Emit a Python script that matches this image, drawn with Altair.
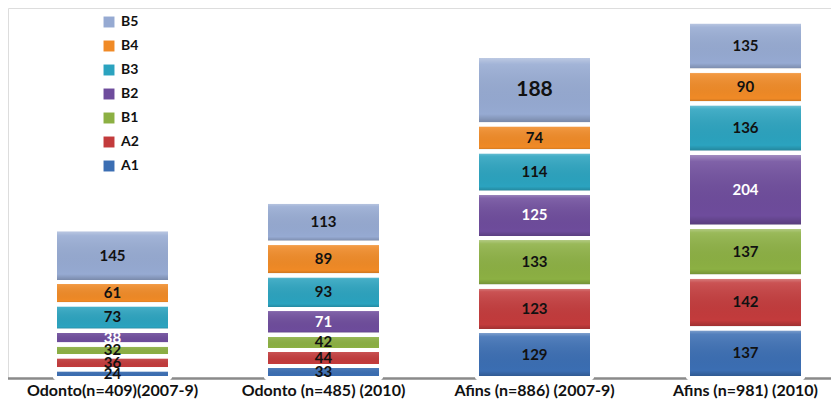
import altair as alt
import pandas as pd

categories = ["Odonto(n=409)(2007-9)", "Odonto (n=485) (2010)", "Afins (n=886) (2007-9)", "Afins (n=981) (2010)"]
series = ["A1", "A2", "B1", "B2", "B3", "B4", "B5"]
A1 = [24, 33, 129, 137]
A2 = [36, 44, 123, 142]
B1 = [32, 42, 133, 137]
B2 = [38, 71, 125, 204]
B3 = [73, 93, 114, 136]
B4 = [61, 89, 74, 90]
B5 = [145, 113, 188, 135]
colors = ["#3b6eb3", "#c33b3c", "#8cb043", "#6e4c9c", "#2ba3bf", "#f08a26", "#96aad2"]

vals = {"A1": A1, "A2": A2, "B1": B1, "B2": B2, "B3": B3, "B4": B4, "B5": B5}
rows = []
for si, s in enumerate(series):
    for ci, c in enumerate(categories):
        rows.append({"cat": c, "series": s, "order": si, "value": vals[s][ci]})
df = pd.DataFrame(rows)

legend_domain = series[::-1]
legend_range = colors[::-1]

base = alt.Chart(df).transform_stack(
    stack="value", groupby=["cat"], as_=["y0", "y1"], sort=[alt.SortField("order", "ascending")]
).transform_calculate(mid="(datum.y0 + datum.y1) / 2")

xscale = alt.Scale(range=[-1, 843], paddingInner=0, paddingOuter=0)
x = alt.X("cat:N", sort=categories, title=None, scale=xscale,
          axis=alt.Axis(labelAngle=0, ticks=False, domainColor="#8a8a8a", domainWidth=2.5,
                        labelFont="Lato", labelFontWeight="bold",
                        labelFontSize=16, labelColor="#111", labelPadding=4))
yscale = alt.Scale(domain=[0, 1018], nice=False)

bars = base.mark_bar(size=115, stroke="white", strokeWidth=4, cornerRadius=2).encode(
    x=x,
    y=alt.Y("y0:Q", scale=yscale, axis=None),
    y2="y1:Q",
    color=alt.Color("series:N", scale=alt.Scale(domain=legend_domain, range=legend_range),
                    legend=alt.Legend(title=None, orient="none", legendX=94, legendY=7,
                                      symbolType="square", symbolSize=120, symbolStrokeWidth=0,
                                      labelFont="Lato", labelFontWeight="bold",
                                      labelFontSize=14, labelColor="#111", rowPadding=10,
                                      padding=0, labelOffset=5)),
)

gloss = alt.Gradient(
    gradient="linear", x1=0, y1=0, x2=0, y2=1,
    stops=[alt.GradientStop(offset=0, color="rgba(255,255,255,0.45)"),
           alt.GradientStop(offset=0.12, color="rgba(255,255,255,0.12)"),
           alt.GradientStop(offset=0.85, color="rgba(0,0,0,0.0)"),
           alt.GradientStop(offset=1, color="rgba(0,0,0,0.25)")],
)
overlay = base.mark_bar(size=115, stroke="white", strokeWidth=4, cornerRadius=2, fill=gloss).encode(
    x=alt.X("cat:N", sort=categories, scale=xscale),
    y=alt.Y("y0:Q", scale=yscale),
    y2="y1:Q",
)

labels = base.mark_text(fontWeight="bold", font="Lato", baseline="middle").encode(
    x=alt.X("cat:N", sort=categories, scale=xscale),
    y=alt.Y("mid:Q", scale=yscale),
    text="value:Q",
    color=alt.condition("datum.series == 'B2'", alt.value("white"), alt.value("#111")),
    size=alt.condition("datum.value == 188", alt.value(21), alt.value(15)),
)

chart = alt.layer(bars, overlay, labels).properties(
    width=823, height=370,
    autosize=alt.AutoSizeParams(type="none"),
    padding={"left": 0, "top": 0, "right": 0, "bottom": 22},
).configure_view(stroke=None).configure(background="white")
chart.save("out.html", embed_options={"renderer": "svg", "actions": False})
